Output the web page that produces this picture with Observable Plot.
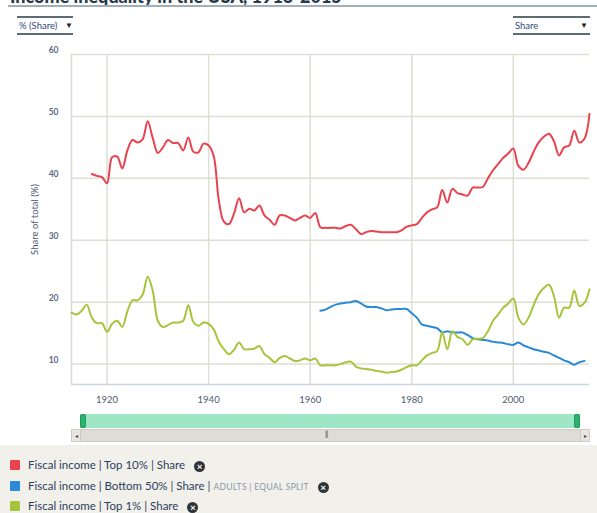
<!DOCTYPE html>
<html><head><meta charset="utf-8">
<script src="https://cdn.jsdelivr.net/npm/d3@7"></script>
<script src="https://cdn.jsdelivr.net/npm/@observablehq/plot@0.6"></script>
<style>
body{margin:0;width:597px;height:513px;position:relative;overflow:hidden;background:#fff;font-family:Lato,"Open Sans",sans-serif;}
.abs{position:absolute;}
.dd{position:absolute;border-top:2px solid #5d6b73;border-bottom:2px solid #5d6b73;height:14px;font-size:9.5px;color:#2f4a7a;line-height:14px;padding-top:1px;}
.dd .tri{position:absolute;right:0;top:0;font-size:8px;color:#222;}
.leg{position:absolute;left:10px;font-size:11.5px;color:#2d3e5c;line-height:13px;white-space:nowrap;}
.sw{display:inline-block;width:10px;height:10px;vertical-align:-1px;margin-right:8px;border-radius:1px;}
.x{display:inline-block;width:11px;height:11px;border-radius:50%;background:#2f3438;color:#fff;font-size:10px;line-height:11px;text-align:center;font-weight:bold;margin-left:9px;vertical-align:-1px;}
.sc{font-size:8.5px;color:#8a96a8;letter-spacing:0.3px;}
</style></head>
<body>
<div class="abs" style="left:10px;top:-15px;font-weight:900;font-size:18px;color:#2b3a4a;white-space:nowrap">Income inequality in the USA, 1913-2015</div>
<div class="abs" style="left:8px;right:0;top:5px;height:2px;background:#9fb0b8"></div>
<div class="dd" style="left:17px;top:16px;width:56px"><span style="padding-left:2px">% (Share)</span><span class="tri">▼</span></div>
<div class="dd" style="left:513px;top:16px;width:77px"><span style="padding-left:2px">Share</span><span class="tri" style="right:2px">▼</span></div>
<div id="chart" class="abs" style="left:0;top:0"></div>
<div class="abs" style="left:80px;top:414px;width:500px;height:14px;background:#9fe6c6"></div>
<div class="abs" style="left:80px;top:414px;width:6px;height:14px;background:#2db36f;border-radius:2px;box-sizing:border-box;border:1px solid #1f9a5a"></div>
<div class="abs" style="left:574px;top:414px;width:6px;height:14px;background:#2db36f;border-radius:2px;box-sizing:border-box;border:1px solid #1f9a5a"></div>
<div class="abs" style="left:71px;top:429px;width:519px;height:13px;background:#dedcd6;border:1px solid #cfccc4;box-sizing:border-box"></div>
<div class="abs" style="left:71px;top:429px;width:10px;height:13px;background:#e8e6e1;border:1px solid #cfccc4;box-sizing:border-box;font-size:6px;line-height:11px;text-align:center;color:#444">◂</div>
<div class="abs" style="left:580px;top:429px;width:10px;height:13px;background:#e8e6e1;border:1px solid #cfccc4;box-sizing:border-box;font-size:6px;line-height:11px;text-align:center;color:#444">▸</div>
<div class="abs" style="left:325px;top:430px;font-size:7px;color:#555;letter-spacing:-1px">|||</div>
<div class="abs" style="left:0;top:445px;width:597px;height:68px;background:#f1f0eb"></div>
<div id="legend"></div>
<script>
const years10 = d3.range(1917, 2016);
const top10 = [40.7,40.4,40.2,39.2,43.4,43.5,41.6,44.5,46.2,45.8,46.3,49.2,46.5,44.1,45.0,46.2,45.7,45.7,44.5,46.6,44.3,44.2,45.6,45.3,43.6,36.5,33.0,32.6,34.3,36.8,34.5,35.1,34.8,35.6,34.0,33.3,32.5,34.0,34.0,33.6,33.2,33.6,34.0,33.6,34.4,32.1,32.0,32.0,32.0,31.9,32.3,32.5,31.8,31.0,31.3,31.5,31.4,31.3,31.3,31.3,31.3,31.6,32.2,32.4,32.6,33.6,34.5,35.0,35.3,38.1,36.1,38.3,37.6,37.4,37.2,38.5,38.5,38.6,40.0,41.3,42.3,43.3,44.0,44.8,42.0,41.4,42.5,44.3,45.8,46.7,47.2,46.0,43.7,45.0,45.3,47.7,45.8,46.4,50.4];
const years1 = d3.range(1913, 2016);
const top1 = [18.3,18.0,18.6,19.6,17.5,16.6,16.6,15.2,16.5,17.0,16.0,18.5,20.3,20.3,21.2,24.1,21.8,17.0,16.0,16.3,16.7,16.7,17.0,19.5,16.8,16.2,16.7,16.5,15.6,13.6,12.4,11.6,12.3,13.5,12.4,12.4,12.5,12.9,11.6,11.0,10.3,11.0,11.3,10.9,10.5,10.6,10.9,10.6,10.9,9.8,9.8,9.8,9.8,10.0,10.3,10.4,9.6,9.3,9.2,9.1,8.9,8.8,8.6,8.7,8.8,9.1,9.5,9.8,9.8,10.6,11.4,11.8,12.1,15.1,12.4,15.3,14.4,14.0,13.1,14.0,14.1,14.2,15.3,17.0,18.0,19.1,19.8,20.6,17.5,16.4,17.5,19.5,21.3,22.3,22.8,21.0,17.5,19.1,19.1,21.9,19.4,19.9,22.1];
const yearsB50 = d3.range(1962, 2015);
const bottom50 = [18.6,18.8,19.2,19.6,19.8,19.9,20.0,20.2,19.8,19.3,19.2,19.2,19.0,18.7,18.8,18.9,18.9,18.9,18.2,17.5,16.4,16.2,16.0,15.8,15.1,15.3,15.1,15.1,15.1,14.7,14.2,14.0,13.9,13.8,13.6,13.5,13.4,13.2,13.1,13.5,13.0,12.7,12.4,12.2,12.0,11.8,11.4,11.0,10.6,10.3,9.9,10.3,10.5];
const xTicks = [1920, 1940, 1960, 1980, 2000];
const yTicks = [10, 20, 30, 40, 50, 60];
const seriesNames = ["Fiscal income | Top 10% | Share", "Fiscal income | Bottom 50% | Share", "Fiscal income | Top 1% | Share"];
const seriesColors = ["#e8434f", "#2b8ad6", "#a6c43c"];

const rows = [];
years10.forEach((y,i)=>rows.push({year:y, v:top10[i], s:seriesNames[0]}));
yearsB50.forEach((y,i)=>rows.push({year:y, v:bottom50[i], s:seriesNames[1]}));
years1.forEach((y,i)=>rows.push({year:y, v:top1[i], s:seriesNames[2]}));

const chart = Plot.plot({
  width: 597, height: 410,
  marginLeft: 71, marginRight: 8, marginTop: 54, marginBottom: 26,
  style: {fontFamily: "Lato, 'Open Sans', sans-serif", background: "transparent"},
  x: {domain: [1913, 2015]},
  y: {domain: [6.7, 60]},
  color: {domain: seriesNames, range: seriesColors},
  marks: [
    Plot.gridX(xTicks, {stroke: "#e0ddd4", strokeOpacity: 1, strokeWidth: 1.5}),
    Plot.gridY(yTicks, {stroke: "#e0ddd4", strokeOpacity: 1, strokeWidth: 1.5}),
    Plot.ruleX([1913], {stroke: "#dad7cf", strokeWidth: 1.5}),
    Plot.ruleY([6.7], {stroke: "#c9d5e2", strokeWidth: 1.5}),
    Plot.axisX(xTicks, {tickSize: 0, tickPadding: 12, tickFormat: d => String(d), fontSize: 9.5, fill: "#4c5a70", label: null}),
    Plot.axisY(yTicks, {tickSize: 0, tickPadding: 13, dy: -4, fontSize: 8.5, fontWeight: "bold", fill: "#5c6a80", label: "Share of total (%)", labelAnchor: "center", labelArrow: "none", labelOffset: 40}),
    Plot.line(rows, {x: "year", y: "v", z: "s", stroke: "s", strokeWidth: 2, curve: "catmull-rom"})
  ]
});
chart.querySelectorAll("g[aria-label='y-axis label'] text").forEach(t=>{t.setAttribute("font-size","9.5");t.setAttribute("fill","#4c5a70");t.setAttribute("font-weight","normal");});
document.getElementById("chart").appendChild(chart);

const leg = document.getElementById("legend");
const extras = ["", ' | <span class="sc">ADULTS | EQUAL SPLIT</span>', ""];
const tops = [458, 479, 499];
seriesNames.forEach((n,i)=>{
  const d = document.createElement("div");
  d.className = "leg";
  d.style.top = tops[i] + "px";
  d.innerHTML = `<span class="sw" style="background:${seriesColors[i]}"></span>${n}${extras[i]}<span class="x">×</span>`;
  leg.appendChild(d);
});
</script>
</body></html>
